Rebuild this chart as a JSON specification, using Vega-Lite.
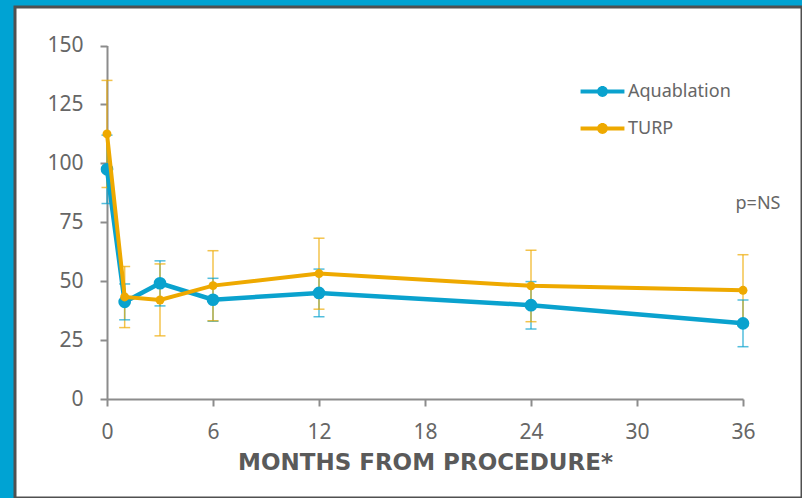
{
  "$schema": "https://vega.github.io/schema/vega-lite/v6.json",
  "width": 787,
  "height": 491,
  "autosize": "none",
  "padding": {"left": 15, "top": 7, "right": 0, "bottom": 0},
  "background": "#00A3D3",
  "config": {
    "view": {"fill": "white", "stroke": "#505050", "strokeWidth": 3},
    "axis": {
      "domainColor": "#8c8c8c", "domainWidth": 2, "tickColor": "#8c8c8c", "tickWidth": 2, "tickSize": 7,
      "grid": false, "labelFont": "Noto Sans", "labelFontSize": 21, "labelColor": "#666666", "labelFlush": false,
      "titleFont": "DejaVu Sans", "titleFontSize": 23, "titleFontWeight": "bold", "titleColor": "#5a5a5a"
    }
  },
  "datasets": {
    "series": [
      {"month": 0, "series": "Aquablation", "value": 97.5, "lo": 83.0, "hi": 112.0},
      {"month": 1, "series": "Aquablation", "value": 41.3, "lo": 33.7, "hi": 48.9},
      {"month": 3, "series": "Aquablation", "value": 49.2, "lo": 39.6, "hi": 58.7},
      {"month": 6, "series": "Aquablation", "value": 42.2, "lo": 33.1, "hi": 51.3},
      {"month": 12, "series": "Aquablation", "value": 45.1, "lo": 35.0, "hi": 55.2},
      {"month": 24, "series": "Aquablation", "value": 39.9, "lo": 29.8, "hi": 49.9},
      {"month": 36, "series": "Aquablation", "value": 32.2, "lo": 22.3, "hi": 42.1},
      {"month": 0, "series": "TURP", "value": 112.5, "lo": 89.8, "hi": 135.2},
      {"month": 1, "series": "TURP", "value": 43.4, "lo": 30.4, "hi": 56.3},
      {"month": 3, "series": "TURP", "value": 42.1, "lo": 26.9, "hi": 57.4},
      {"month": 6, "series": "TURP", "value": 48.2, "lo": 33.3, "hi": 63.0},
      {"month": 12, "series": "TURP", "value": 53.3, "lo": 38.2, "hi": 68.3},
      {"month": 24, "series": "TURP", "value": 48.1, "lo": 32.9, "hi": 63.2},
      {"month": 36, "series": "TURP", "value": 46.2, "lo": 31.1, "hi": 61.3}
    ],
    "note": [{"month": 36.85, "value": 83, "text": "p=NS"}]
  },
  "data": {"name": "series"},
  "encoding": {
    "x": {
      "field": "month", "type": "quantitative",
      "scale": {"domain": [0, 36], "range": [92, 728], "nice": false, "zero": false},
      "axis": {"values": [0, 6, 12, 18, 24, 30, 36], "title": "MONTHS FROM PROCEDURE*", "labelPadding": 15, "titlePadding": 9, "offset": -99}
    },
    "y": {
      "field": "value", "type": "quantitative",
      "scale": {"domain": [0, 150], "range": [392.3, 38.5], "nice": false},
      "axis": {"values": [0, 25, 50, 75, 100, 125, 150], "title": null, "labelPadding": 17, "offset": -92}
    },
    "color": {
      "field": "series", "type": "nominal",
      "scale": {"domain": ["Aquablation", "TURP"], "range": ["#0AA2CE", "#EEA900"]},
      "legend": {
        "orient": "none", "legendX": 571, "legendY": 68, "title": null, "padding": 0,
        "symbolType": "M-1.33,-0.12H1.33V0.12H-1.33Z M-0.33,0A0.33,0.33 0 1,1 0.33,0A0.33,0.33 0 1,1 -0.33,0Z",
        "symbolSize": 1089, "symbolStrokeWidth": 0, "symbolOpacity": 1,
        "labelFont": "Noto Sans", "labelFontSize": 18, "labelColor": "#666666", "labelOffset": 9, "rowPadding": 11,
        "encode": {"symbols": {"update": {"fill": {"scale": "color", "field": "value"}, "stroke": {"value": "transparent"}, "opacity": {"value": 1}}}}
      }
    }
  },
  "layer": [
    {
      "mark": {"type": "rule", "strokeWidth": 1.5, "opacity": 0.7},
      "encoding": {"y": {"field": "lo", "type": "quantitative"}, "y2": {"field": "hi"}}
    },
    {
      "mark": {"type": "tick", "orient": "horizontal", "size": 11, "thickness": 1.5, "opacity": 0.7},
      "encoding": {"y": {"field": "hi", "type": "quantitative"}}
    },
    {
      "mark": {"type": "tick", "orient": "horizontal", "size": 11, "thickness": 1.5, "opacity": 0.7},
      "encoding": {"y": {"field": "lo", "type": "quantitative"}}
    },
    {
      "transform": [{"filter": "datum.series === 'Aquablation'"}],
      "mark": {"type": "line", "strokeWidth": 4.5},
      "encoding": {}
    },
    {
      "transform": [{"filter": "datum.series === 'Aquablation'"}],
      "mark": {"type": "point", "filled": true, "opacity": 1, "size": 160},
      "encoding": {}
    },
    {
      "transform": [{"filter": "datum.series === 'TURP'"}],
      "mark": {"type": "line", "strokeWidth": 4},
      "encoding": {}
    },
    {
      "transform": [{"filter": "datum.series === 'TURP'"}],
      "mark": {"type": "point", "filled": true, "opacity": 1, "size": 80},
      "encoding": {}
    },
    {
      "data": {"name": "note"},
      "mark": {"type": "text", "font": "Noto Sans", "fontSize": 18, "color": "#666666", "align": "center", "baseline": "middle"},
      "encoding": {"text": {"field": "text"}, "color": null}
    }
  ]
}
